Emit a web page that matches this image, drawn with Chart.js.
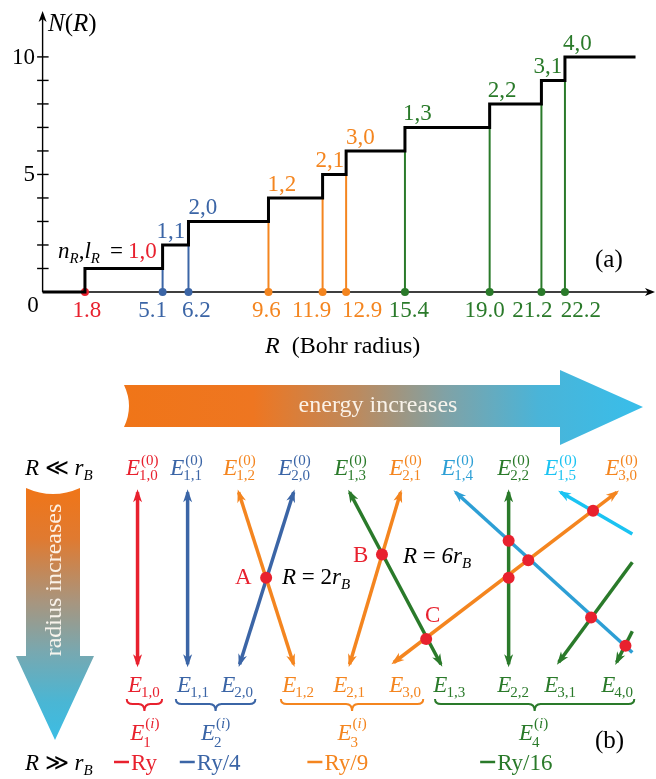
<!DOCTYPE html>
<html><head><meta charset="utf-8">
<script src="https://cdn.jsdelivr.net/npm/chart.js@4.4.1/dist/chart.umd.min.js"></script>
<style>
html,body{margin:0;padding:0;background:#fff;}
#wrap{position:relative;width:656px;height:779px;overflow:hidden;}
#ca{position:absolute;left:0;top:0;}
#cb{position:absolute;left:0;top:360px;}
</style></head><body>
<div id="wrap">
<canvas id="ca" width="656" height="360"></canvas>
<canvas id="cb" width="656" height="419"></canvas>
</div>
<script>
// ---- (a) staircase N(R): radius where each new bound state appears ----
const stepR     = [1.8, 5.1, 6.2, 9.6, 11.9, 12.9, 15.4, 19.0, 21.2, 22.2];
const stepState = ['1,0','1,1','2,0','1,2','2,1','3,0','1,3','2,2','3,1','4,0'];
const rEnd = 25.2;
const yTickVals  = [0, 5, 10];
const yMinorVals = [1, 2, 3, 4, 5, 6, 7, 8, 9, 10];

// ---- (b) level diagram: x = schematic energy position, t = 0 (R<<rB) .. 1 (R>>rB) ----
const lineState  = ['1,0','1,1','1,2','2,0','1,3','2,1','3,0','1,4','2,2','1,5','3,1','4,0'];
const lineStartX = [134, 185, 237, 293, 350, 402, 622, 458, 512, 565, 638, 638];
const lineStartT = [0, 0, 0, 0, 0, 0, 0, 0, 0, 0, 0.407, 0.808];
const lineEndX   = [134, 185, 293, 238, 443, 350, 395, 638, 512, 638, 563, 622];
const lineEndT   = [1, 1, 1, 1, 1, 1, 0.99, 0.932, 1, 0.243, 0.989, 0.989];
const headStart  = [1, 1, 1, 1, 1, 1, 1, 1, 1, 1, 0, 0];
const headEnd    = [1, 1, 1, 1, 1, 1, 1, 0, 1, 0, 1, 1];
const crossX = [265, 383, 428, 598, 512, 532, 512, 596, 631];
const crossT = [0.497, 0.362, 0.853, 0.107, 0.282, 0.395, 0.497, 0.729, 0.893];
const topState  = ['1,0','1,1','1,2','2,0','1,3','2,1','1,4','2,2','1,5','3,0'];
const topX      = [139, 184, 238, 294, 351, 407, 460, 517, 565, 627];
const botState  = ['1,0','1,1','2,0','1,2','2,1','3,0','1,3','2,2','3,1','4,0'];
const botX      = [141, 191, 236, 298, 350, 407, 452, 517, 565, 623];
const shellN    = [1, 2, 3, 4];
const shellFrom = [123, 173, 280, 437];
const shellTo   = [159, 254, 425, 640];
const shellLabX = [141, 213, 352, 537];
const shellE    = ['Ry', 'Ry/4', 'Ry/9', 'Ry/16'];
const shellEX   = [110, 177, 307, 483];

// layout nudges for crowded labels (px)
const xLabDx   = [2, -10, 8, -2, -11, 16, 4, -5, -9, 16];
const stateDx  = [0, -6, 0, -1, -7, 0, -2, -2, -8, -2];

const SERIF = "'Liberation Serif','DejaVu Serif',serif";
const shellColor = {1:'#E8212E', 2:'#3B65A6', 3:'#F4851F', 4:'#2A7A2A', 5:'#2D9FD5', 6:'#1BC3F2'};
const col = s => { const p = s.split(','); return shellColor[+p[0] + +p[1]]; };
const font = (s, it) => (it ? 'italic ' : '') + s + 'px ' + SERIF;
const OFF = 360;

function runs(ctx, x, y, list, color){
  ctx.fillStyle = color; ctx.textAlign = 'left'; ctx.textBaseline = 'alphabetic';
  let cx = x;
  list.forEach(([t, s, it, dy]) => { ctx.font = font(s, it); ctx.fillText(t, cx, y + (dy || 0)); cx += ctx.measureText(t).width; });
  return cx;
}
function runsW(ctx, list){
  let w = 0; list.forEach(([t, s, it]) => { ctx.font = font(s, it); w += ctx.measureText(t).width; }); return w;
}
// E with stacked super/subscript, centred on cx
function sym(ctx, cx, y, sup, sub, color, supDy, subDy){
  ctx.font = font(23, true); const wm = ctx.measureText('E').width;
  const ws = sup ? runsW(ctx, sup) : 0, wb = sub ? runsW(ctx, [[sub, 15, 0]]) : 0;
  const x = cx - (wm + Math.max(ws, wb)) / 2;
  runs(ctx, x, y, [['E', 23, 1]], color);
  if (sup) runs(ctx, x + wm + 1, y + supDy, sup, color);
  if (sub) runs(ctx, x + wm - 1, y + subDy, [[sub, 15, 0]], color);
}
function head(ctx, tx, ty, ang, len, half, color){
  const dx = Math.cos(ang), dy = Math.sin(ang);
  ctx.fillStyle = color; ctx.beginPath();
  ctx.moveTo(tx, ty);
  ctx.lineTo(tx - len*dx - half*dy, ty - len*dy + half*dx);
  ctx.lineTo(tx - 0.72*len*dx, ty - 0.72*len*dy);
  ctx.lineTo(tx - len*dx + half*dy, ty - len*dy - half*dx);
  ctx.closePath(); ctx.fill();
}

Chart.defaults.font.family = SERIF;

// ================= (a) =================
const stepData = [{x:0, y:0}].concat(stepR.map((r, i) => ({x:r, y:i + 1})), [{x:rEnd, y:stepR.length}]);
const riseSets = stepR.map((r, i) => ({
  data: [{x:r, y:0}, {x:r, y:i}], showLine: true, clip: false, order: 1,
  borderColor: col(stepState[i]), backgroundColor: col(stepState[i]), borderWidth: 2,
  pointRadius: c => c.dataIndex === 0 ? 4 : 0, pointBorderWidth: 0
}));

const axesA = {
  id: 'axesA',
  beforeDatasetsDraw(chart){
    const {ctx, chartArea: a, scales: {y}} = chart;
    ctx.save(); ctx.strokeStyle = '#000'; ctx.lineWidth = 1.4;
    ctx.beginPath(); ctx.moveTo(a.left, a.bottom); ctx.lineTo(a.left, a.top + 5);
    ctx.moveTo(a.left, a.bottom); ctx.lineTo(a.right - 2, a.bottom); ctx.stroke();
    yMinorVals.forEach(v => { const py = y.getPixelForValue(v);
      ctx.beginPath(); ctx.moveTo(a.left - 5.5, py); ctx.lineTo(a.left + 6, py); ctx.stroke(); });
    head(ctx, a.left, a.top - 1, -Math.PI/2, 11, 4, '#000');
    head(ctx, a.right + 3, a.bottom, 0, 10, 4, '#000');
    ctx.restore();
  },
  afterDatasetsDraw(chart){
    const {ctx, scales: {x, y}} = chart;
    ctx.save();
    ctx.textAlign = 'center'; ctx.font = font(23, false);
    stepR.forEach((r, i) => { ctx.fillStyle = col(stepState[i]);
      ctx.fillText(r.toFixed(1), x.getPixelForValue(r) + xLabDx[i], 317); });
    ctx.fillStyle = '#000';
    yTickVals.forEach(v => {
      if (v === 0) { ctx.textAlign = 'center'; ctx.fillText('0', 33, 312); return; }
      ctx.textAlign = 'right'; ctx.textBaseline = 'middle';
      ctx.fillText(String(v), 35, y.getPixelForValue(v) + 1);
      ctx.textBaseline = 'alphabetic';
    });
    stepState.forEach((s, i) => { if (i === 0) return;
      runs(ctx, x.getPixelForValue(stepR[i]) + stateDx[i], y.getPixelForValue(i + 1) - 7, [[s, 23, 0]], col(s)); });
    const by = y.getPixelForValue(1) - 10;
    runs(ctx, 58, by, [['n',23,1],['R',15,1,5],[',',23,0],['l',23,1],['R',15,1,5]], '#000');
    runs(ctx, 110, by, [['=',23,0]], '#000');
    runs(ctx, 128, by, [[stepState[0], 23, 0]], col(stepState[0]));
    runs(ctx, 48, 31, [['N',25,1],['(',25,0],['R',25,1],[')',25,0]], '#000');
    runs(ctx, 265, 353, [['R',24,1],['  (Bohr radius)',24,0]], '#000');
    runs(ctx, 595, 267, [['(a)',25,0]], '#000');
    ctx.restore();
  }
};

new Chart(document.getElementById('ca'), {
  type: 'scatter',
  data: { datasets: [{ data: stepData, showLine: true, stepped: true, borderColor: '#000',
    borderWidth: 3, pointRadius: 0, order: 0, clip: false }].concat(riseSets) },
  options: {
    responsive: false, animation: false, events: [],
    layout: { padding: { top: 12, right: 1, left: 42.6, bottom: 68 } },
    plugins: { legend: { display: false }, tooltip: { enabled: false } },
    scales: {
      x: { type: 'linear', display: false, min: 0, max: 25.9 },
      y: { type: 'linear', display: false, min: 0, max: 11.91 }
    }
  },
  plugins: [axesA]
});

// ================= (b) =================
const lineSets = lineState.map((s, i) => ({
  data: [{x: lineStartX[i], y: lineStartT[i]}, {x: lineEndX[i], y: lineEndT[i]}],
  showLine: true, clip: false, order: 1, borderColor: col(s), borderWidth: 3.5, pointRadius: 0,
  heads: [headStart[i], headEnd[i]]
}));
const dotSet = { data: crossX.map((x, i) => ({x, y: crossT[i]})), pointRadius: 6,
  backgroundColor: '#E8212E', pointBorderWidth: 0, order: 0, clip: false };

const drawB = {
  id: 'drawB',
  beforeDatasetsDraw(chart){
    const ctx = chart.ctx; ctx.save();
    // energy arrow
    let g = ctx.createLinearGradient(124, 0, 642, 0);
    g.addColorStop(0, '#F07518'); g.addColorStop(0.25, '#EE7621'); g.addColorStop(0.45, '#BC8A5E');
    g.addColorStop(0.62, '#80A2A6'); g.addColorStop(0.8, '#4AB4D8'); g.addColorStop(1, '#38BEEA');
    ctx.fillStyle = g; ctx.beginPath();
    ctx.moveTo(124, 385-OFF); ctx.lineTo(560, 385-OFF); ctx.lineTo(560, 370-OFF); ctx.lineTo(643, 407-OFF);
    ctx.lineTo(560, 445-OFF); ctx.lineTo(560, 427-OFF); ctx.lineTo(124, 427-OFF);
    ctx.quadraticCurveTo(134, 406-OFF, 124, 385-OFF); ctx.closePath(); ctx.fill();
    ctx.fillStyle = 'rgba(255,250,242,0.93)'; ctx.font = font(24, false); ctx.textAlign = 'center';
    ctx.fillText('energy increases', 378, 412-OFF);
    // radius arrow
    g = ctx.createLinearGradient(0, 488-OFF, 0, 740-OFF);
    g.addColorStop(0, '#F07518'); g.addColorStop(0.2, '#E07A30'); g.addColorStop(0.45, '#A8957E');
    g.addColorStop(0.65, '#78A8B0'); g.addColorStop(0.85, '#4AB6D4'); g.addColorStop(1, '#3CBDE4');
    ctx.fillStyle = g; ctx.beginPath();
    ctx.moveTo(26, 488-OFF); ctx.quadraticCurveTo(53, 500-OFF, 80, 488-OFF); ctx.lineTo(80, 656-OFF);
    ctx.lineTo(94, 656-OFF); ctx.lineTo(55, 740-OFF); ctx.lineTo(16, 656-OFF); ctx.lineTo(26, 656-OFF);
    ctx.closePath(); ctx.fill();
    ctx.translate(61, 580-OFF); ctx.rotate(-Math.PI/2);
    ctx.fillStyle = 'rgba(255,250,242,0.93)'; ctx.fillText('radius increases', 0, 0);
    ctx.restore();
  },
  afterDatasetDraw(chart, args){
    const ds = chart.data.datasets[args.index]; if (!ds.heads) return;
    const [p0, p1] = args.meta.data, ctx = chart.ctx;
    const ang = Math.atan2(p1.y - p0.y, p1.x - p0.x);
    ctx.save();
    if (ds.heads[0]) head(ctx, p0.x - 3*Math.cos(ang), p0.y - 3*Math.sin(ang), ang + Math.PI, 13, 4.5, ds.borderColor);
    if (ds.heads[1]) head(ctx, p1.x + 3*Math.cos(ang), p1.y + 3*Math.sin(ang), ang, 13, 4.5, ds.borderColor);
    ctx.restore();
  },
  afterDraw(chart){
    const {ctx, scales: {x}} = chart; ctx.save();
    const Y = v => v - OFF;
    runs(ctx, 25, Y(475), [['R',23,1],[' \u226A ',23,0],['r',23,1],['B',15,1,5]], '#000');
    runs(ctx, 25, Y(770), [['R',23,1],[' \u226B ',23,0],['r',23,1],['B',15,1,5]], '#000');
    topState.forEach((s, i) => sym(ctx, x.getPixelForValue(topX[i]), Y(475), [['(0)',15,0]], s, col(s), -10, 5));
    botState.forEach((s, i) => sym(ctx, x.getPixelForValue(botX[i]), Y(692), null, s, col(s), 0, 5));
    shellN.forEach((n, i) => {
      const c = shellColor[n], x0 = x.getPixelForValue(shellFrom[i]), x1 = x.getPixelForValue(shellTo[i]);
      const xm = (x0 + x1) / 2, yt = Y(699), ym = Y(704), yp = Y(711), r = 6;
      ctx.strokeStyle = c; ctx.lineWidth = 2; ctx.beginPath();
      ctx.moveTo(x0, yt); ctx.quadraticCurveTo(x0, ym, x0 + r, ym); ctx.lineTo(xm - r, ym); ctx.quadraticCurveTo(xm, ym, xm, yp);
      ctx.moveTo(x1, yt); ctx.quadraticCurveTo(x1, ym, x1 - r, ym); ctx.lineTo(xm + r, ym); ctx.quadraticCurveTo(xm, ym, xm, yp);
      ctx.stroke();
      sym(ctx, x.getPixelForValue(shellLabX[i]), Y(740), [['(',15,0],['i',15,1],[')',15,0]], String(n), c, -12, 7);
      const ex = x.getPixelForValue(shellEX[i]);
      ctx.lineWidth = 2.5; ctx.beginPath(); ctx.moveTo(ex, Y(762)); ctx.lineTo(ex + 15, Y(762)); ctx.stroke();
      runs(ctx, ex + 17, Y(770), [[shellE[i], 23, 0]], c);
    });
    runs(ctx, 235, Y(584), [['A',23,0]], '#E8212E');
    runs(ctx, 282, Y(584), [['R',23,1],[' = ',23,0],['2',23,0],['r',23,1],['B',15,1,5]], '#000');
    runs(ctx, 353, Y(562), [['B',23,0]], '#E8212E');
    runs(ctx, 403, Y(563), [['R',23,1],[' = ',23,0],['6',23,1],['r',23,1],['B',15,1,5]], '#000');
    runs(ctx, 425, Y(622), [['C',23,0]], '#E8212E');
    runs(ctx, 595, Y(748), [['(b)',25,0]], '#000');
    ctx.restore();
  }
};

new Chart(document.getElementById('cb'), {
  type: 'scatter',
  data: { datasets: [dotSet].concat(lineSets) },
  options: {
    responsive: false, animation: false, events: [],
    layout: { padding: 0 },
    plugins: { legend: { display: false }, tooltip: { enabled: false } },
    scales: {
      x: { type: 'linear', display: false, min: 0, max: 656 },
      y: { type: 'linear', display: false, reverse: true, min: -0.7345, max: 1.6328 }
    }
  },
  plugins: [drawB]
});
</script>
</body></html>
